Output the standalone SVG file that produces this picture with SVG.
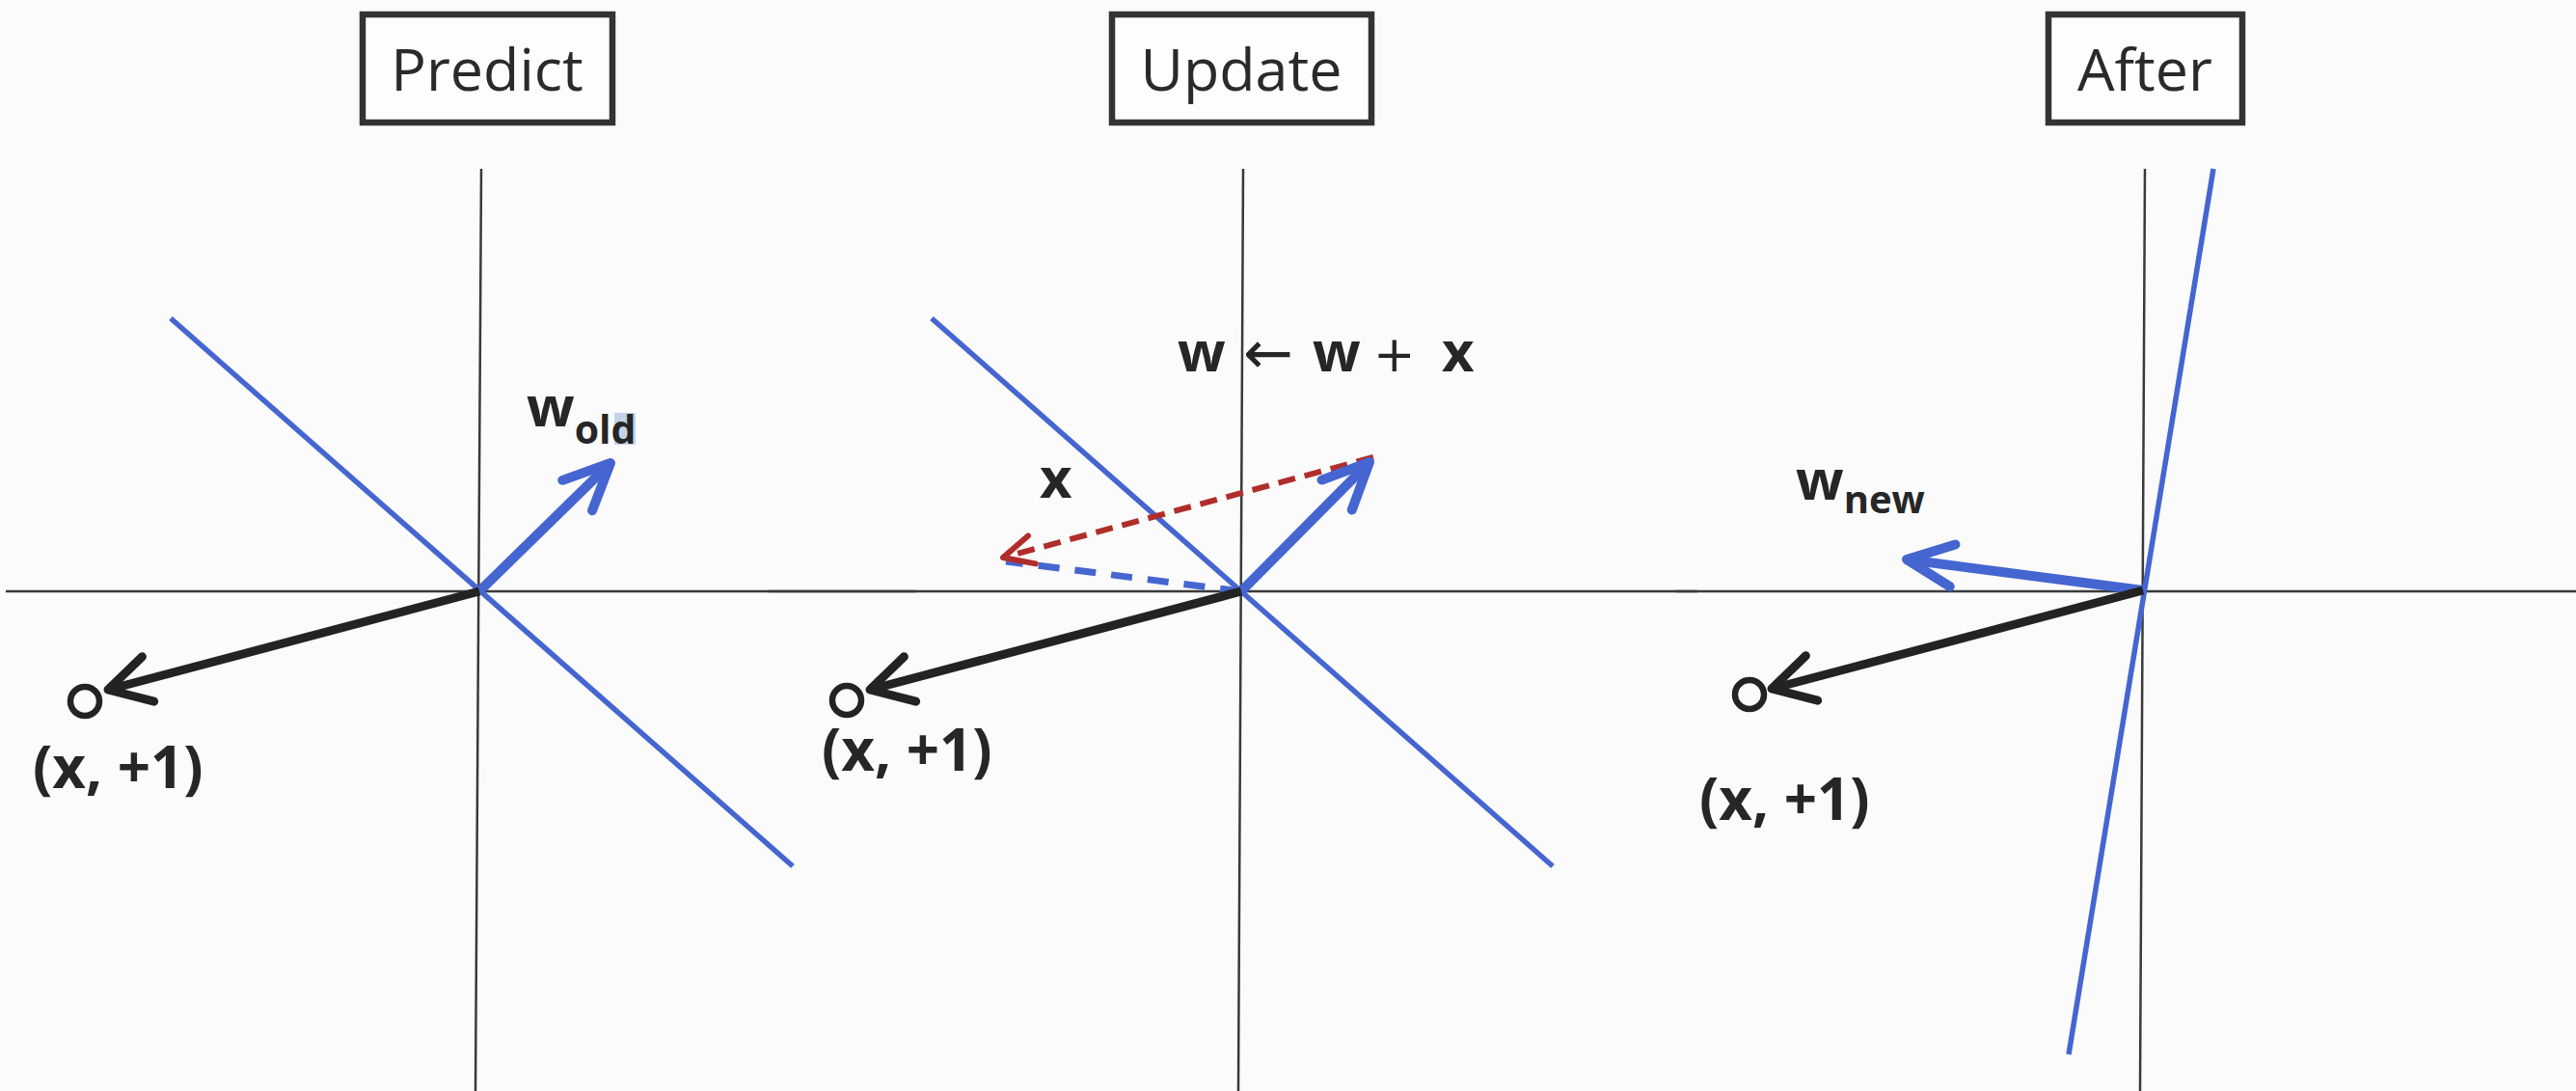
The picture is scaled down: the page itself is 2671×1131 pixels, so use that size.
<svg xmlns="http://www.w3.org/2000/svg" width="2671" height="1131" viewBox="0 0 2671 1131">
<style>
.bg{fill:#fbfbfb}
.axis{stroke:#3a3a3a;stroke-width:2.5;fill:none}
.box{fill:#fdfdfd;stroke:#333;stroke-width:6.5}
.title{font-family:"Open Sans","Liberation Sans",sans-serif;font-size:61px;fill:#2a2a2a;text-anchor:middle}
.lbl{font-family:"Open Sans","Liberation Sans",sans-serif;font-weight:bold;fill:#262626}
.sym{font-family:"DejaVu Sans",sans-serif;fill:#262626}
.sep{stroke:#4565d0;stroke-width:5.5;fill:none}
.bvec{stroke:#4565d0;stroke-width:10;fill:none}
.kvec{stroke:#232323;stroke-width:9;fill:none}
.pt{fill:none;stroke:#232323;stroke-width:6.5}
.rdash{stroke:#b02e2a;stroke-width:6;stroke-dasharray:18 10;fill:none}
.bdash{stroke:#4565d0;stroke-width:7;stroke-dasharray:22 16;fill:none}
</style>
<defs>
<marker id="hb" markerUnits="userSpaceOnUse" orient="auto" refX="0" refY="0" markerWidth="80" markerHeight="80" viewBox="-60 -40 80 80" overflow="visible">
<path d="M-48,-22 L0,0 L-48,22" fill="none" stroke="#4565d0" stroke-width="10" stroke-linecap="round" stroke-linejoin="round"/>
</marker>
<marker id="hk" markerUnits="userSpaceOnUse" orient="auto" refX="0" refY="0" markerWidth="80" markerHeight="80" viewBox="-60 -40 80 80" overflow="visible">
<path d="M-43,-24 L0,0 L-43,24" fill="none" stroke="#232323" stroke-width="9" stroke-linecap="round" stroke-linejoin="round"/>
</marker>
<marker id="hr" markerUnits="userSpaceOnUse" orient="auto" refX="0" refY="0" markerWidth="60" markerHeight="60" viewBox="-40 -30 60 60" overflow="visible">
<path d="M-31,-15 L0,0 L-31,15" fill="none" stroke="#b02e2a" stroke-width="6" stroke-linecap="round" stroke-linejoin="round"/>
</marker>
</defs>
<rect class="bg" x="0" y="0" width="2671" height="1131"/>

<g id="axes">
<line class="axis" x1="6" y1="613" x2="950" y2="613"/>
<line class="axis" x1="797" y1="613" x2="1760" y2="613"/>
<line class="axis" x1="1737" y1="613" x2="2671" y2="613"/>
<line class="axis" x1="499" y1="175" x2="493" y2="1131"/>
<line class="axis" x1="1289" y1="175" x2="1284" y2="1131"/>
<line class="axis" x1="2224" y1="175" x2="2219" y2="1131"/>
</g>

<g id="predict-title">
<rect class="box" x="376" y="15" width="259" height="112"/>
<text class="title" x="505" y="94">Predict</text>
</g>
<g id="update-title">
<rect class="box" x="1153" y="15" width="269" height="112"/>
<text class="title" x="1287" y="94">Update</text>
</g>
<g id="after-title">
<rect class="box" x="2124" y="15" width="201" height="112"/>
<text class="title" x="2224" y="94">After</text>
</g>

<g id="connectors">
<!-- Predict panel -->
<line class="sep" x1="177" y1="330" x2="822" y2="898"/>
<line class="bvec" x1="497" y1="613" x2="633" y2="480" marker-end="url(#hb)"/>
<line class="kvec" x1="497" y1="613" x2="112" y2="715" marker-end="url(#hk)"/>
<!-- Update panel -->
<line class="sep" x1="966" y1="330" x2="1610" y2="898"/>
<line class="bdash" x1="1287" y1="613" x2="1043" y2="582"/>
<line class="rdash" x1="1424" y1="474" x2="1040" y2="578" marker-end="url(#hr)"/>
<line class="bvec" x1="1287" y1="613" x2="1420" y2="479" marker-end="url(#hb)"/>
<line class="kvec" x1="1287" y1="613" x2="902" y2="715" marker-end="url(#hk)"/>
<!-- After panel -->
<line class="sep" x1="2295" y1="175" x2="2145" y2="1093"/>
<line class="bvec" x1="2222" y1="612" x2="1977" y2="580" marker-end="url(#hb)"/>
<line class="kvec" x1="2222" y1="612" x2="1837" y2="714" marker-end="url(#hk)"/>
</g>

<g id="point-predict">
<circle class="pt" cx="88" cy="727" r="15"/>
<text class="lbl" x="34" y="817" font-size="60">(x, +1)</text>
</g>
<g id="point-update">
<circle class="pt" cx="878" cy="726" r="15"/>
<text class="lbl" x="852" y="799" font-size="60">(x, +1)</text>
</g>
<g id="point-after">
<circle class="pt" cx="1814" cy="720" r="15"/>
<text class="lbl" x="1762" y="850" font-size="60">(x, +1)</text>
</g>

<g id="label-wold">
<rect x="637" y="428" width="22" height="33" fill="#c4d3e8"/>
<text class="lbl" x="546" y="442" font-size="58">w<tspan font-size="41" y="460">old</tspan></text>
</g>
<g id="label-update-rule">
<text class="lbl" x="1221" y="385" font-size="58">w</text>
<text class="sym" x="1289" y="387" font-size="62">←</text>
<text class="lbl" x="1361" y="385" font-size="58">w</text>
<text class="sym" x="1424" y="385" font-size="52">+</text>
<text class="lbl" x="1495" y="385" font-size="58">x</text>
</g>
<g id="label-x">
<text class="lbl" x="1078" y="516" font-size="58">x</text>
</g>
<g id="label-wnew">
<text class="lbl" x="1862" y="518" font-size="58">w<tspan font-size="40" y="532">new</tspan></text>
</g>
</svg>
